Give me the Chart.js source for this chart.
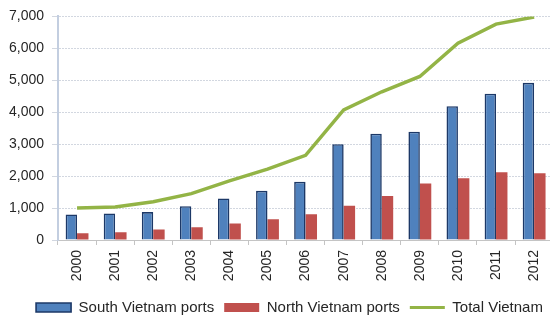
<!DOCTYPE html>
<html>
<head>
<meta charset="utf-8">
<script src="https://cdn.jsdelivr.net/npm/chart.js@4.4.1/dist/chart.umd.min.js"></script>
<style>
  html, body { margin: 0; padding: 0; background: #ffffff; overflow: hidden; width: 550px; height: 317px; }
  canvas { display: block; }
</style>
</head>
<body>
<canvas id="c" width="556" height="317"></canvas>
<script>
const years = ['2000','2001','2002','2003','2004','2005','2006','2007','2008','2009','2010','2011','2012'];
const southPorts = [800, 830, 875, 1060, 1300, 1540, 1820, 3000, 3330, 3390, 4190, 4580, 4920];
const northPorts = [210, 240, 330, 400, 520, 650, 810, 1070, 1380, 1770, 1930, 2120, 2090];
const totalVietnam = [1000, 1030, 1200, 1450, 1850, 2220, 2650, 4070, 4640, 5120, 6160, 6760, 6980];
const seriesNames = ['South Vietnam ports', 'North Vietnam ports', 'Total Vietnam'];
const yTicks = [0, 1000, 2000, 3000, 4000, 5000, 6000, 7000];

const BLUE = '#4f81bd', BLUE_EDGE = '#1c3867', RED = '#c0504d', GREEN = '#93b446';
const FONT = '"Liberation Sans", Arial, sans-serif';

const legendShift = {
  id: 'legendShift',
  afterLayout(chart) {
    const lg = chart.legend;
    if (lg) { lg.left += 12.5; lg.right += 12.5; }
  }
};

new Chart(document.getElementById('c'), {
  type: 'bar',
  plugins: [legendShift],
  data: {
    labels: years,
    datasets: [
      { label: seriesNames[0], data: southPorts, backgroundColor: BLUE, borderColor: BLUE_EDGE, borderWidth: 1.6,
        categoryPercentage: 0.6, barPercentage: 1.0 },
      { label: seriesNames[1], data: northPorts, backgroundColor: RED, borderColor: RED, borderWidth: 0,
        categoryPercentage: 0.6, barPercentage: 1.0 },
      { type: 'line', label: seriesNames[2], data: totalVietnam, borderColor: GREEN, backgroundColor: GREEN,
        borderWidth: 3.5, pointRadius: 0, tension: 0, fill: false }
    ]
  },
  options: {
    responsive: false,
    animation: false,
    layout: { padding: { left: 0, right: 2, top: 16, bottom: -8 } },
    plugins: {
      tooltip: { enabled: false },
      legend: {
        position: 'bottom',
        labels: {
          usePointStyle: true,
          pointStyleWidth: 35,
          boxHeight: 9,
          padding: 10,
          color: '#262626',
          font: { family: FONT, size: 15 },
          generateLabels(chart) {
            const items = Chart.defaults.plugins.legend.labels.generateLabels(chart);
            items.forEach((it, i) => {
              if (i === 2) { it.pointStyle = 'line'; it.strokeStyle = GREEN; it.lineWidth = 3; }
              else { it.pointStyle = 'rect'; }
            });
            return items;
          }
        }
      }
    },
    scales: {
      x: {
        grid: { drawOnChartArea: false, drawTicks: true, tickLength: 5, color: '#c4c4c4' },
        border: { color: '#c4c4c4', width: 1 },
        ticks: { minRotation: 90, maxRotation: 90, padding: 5, color: '#262626', font: { family: FONT, size: 14 } },
        afterFit(scale) { scale.height = 50; }
      },
      y: {
        min: 0, max: 7000,
        afterBuildTicks(scale) { scale.ticks = yTicks.map(v => ({ value: v })); },
        grid: { color: '#d2d7e0', tickLength: 6, drawTicks: true },
        border: { color: '#c3cee0', width: 2, dash: [2, 1] },
        ticks: { padding: 8, color: '#262626', font: { family: FONT, size: 14 },
          callback: (v) => v.toLocaleString('en-US') },
        afterFit(scale) { scale.width = 58; }
      }
    }
  }
});
</script>
</body>
</html>
